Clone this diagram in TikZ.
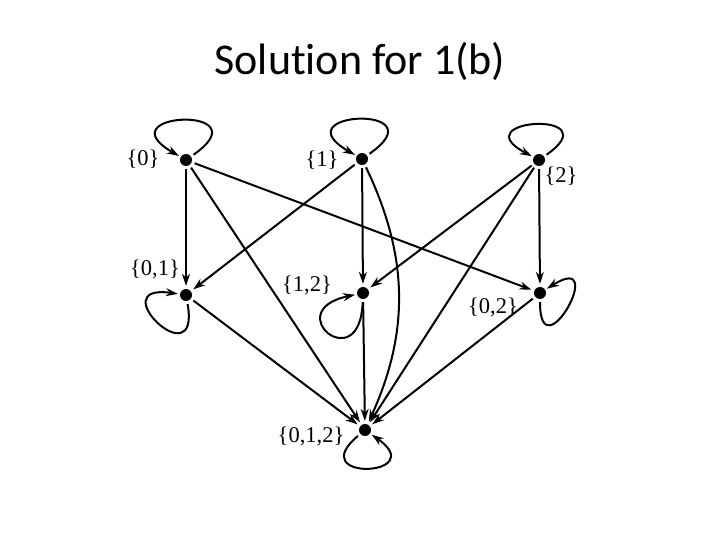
\documentclass[tikz,border=0pt]{standalone}
\usepackage{fontspec}
\setmainfont{Liberation Serif}
\newfontfamily\titlefont[Ligatures={NoCommon}]{Carlito}
\usetikzlibrary{arrows.meta}
\begin{document}
\begin{tikzpicture}[x=1pt,y=-1pt,
  dot/.style={circle,fill=black,inner sep=0pt,minimum size=12pt},
  lab/.style={font=\fontsize{22.5}{26}\selectfont,inner sep=0pt},
  arr/.style={line width=2pt,-{Stealth[length=12pt,width=8pt]},shorten >=3pt,shorten <=3pt},
  lp/.style={line width=2pt,-{Stealth[length=12pt,width=8pt]},shorten >=2pt,shorten <=3pt}]
\useasboundingbox (0,0) rectangle (720,540);
\node[font=\titlefont\fontsize{44}{50}\selectfont,anchor=base] (title) at (360,75) {Solution for 1(b)};
% states
\node[dot] (n0) at (186,160) {};
\node[dot] (n1) at (362,159) {};
\node[dot] (n2) at (539,160) {};
\node[dot] (n01) at (186,295) {};
\node[dot] (n12) at (363,293) {};
\node[dot] (n02) at (540,293) {};
\node[dot] (n012) at (365,430) {};
% labels
\node[lab] (l0) at (143,159) {\{0\}};
\node[lab] (l1) at (322,160) {\{1\}};
\node[lab] (l2) at (561,176) {\{2\}};
\node[lab] (l01) at (155,269) {\{0,1\}};
\node[lab] (l12) at (307,285) {\{1,2\}};
\node[lab] (l02) at (493,307) {\{0,2\}};
\node[lab] (l012) at (311,436) {\{0,1,2\}};
% self loops
\draw[lp] (n0) to[out=35,in=150,distance=90pt] (n0);
\draw[lp] (n1) to[out=35,in=150,distance=90pt] (n1);
\draw[lp] (n2) to[out=35,in=152,distance=82pt] (n2);
\draw[lp] (n01) to[out=-80,in=172,distance=80pt] (n01);
\draw[lp] (n12) to[out=-92,in=192,distance=80pt] (n12);
\draw[lp] (n02) to[out=-90,in=32,distance=76pt] (n02);
\draw[lp] (n012) to[out=-140,in=-35,distance=75pt] (n012);
% transitions
\draw[arr] (n0) -- (n01);
\draw[arr] (n0) -- (n012);
\draw[arr] (n0) -- (n02);
\draw[arr] (n1) -- (n01);
\draw[arr] (n1) -- (n12);
\draw[arr] (n1) to[bend left=25] (n012);
\draw[arr] (n2) -- (n12);
\draw[arr] (n2) -- (n02);
\draw[arr] (n2) -- (n012);
\draw[arr] (n01) -- (n012);
\draw[arr] (n12) -- (n012);
\draw[arr] (n02) -- (n012);
\end{tikzpicture}
\end{document}
